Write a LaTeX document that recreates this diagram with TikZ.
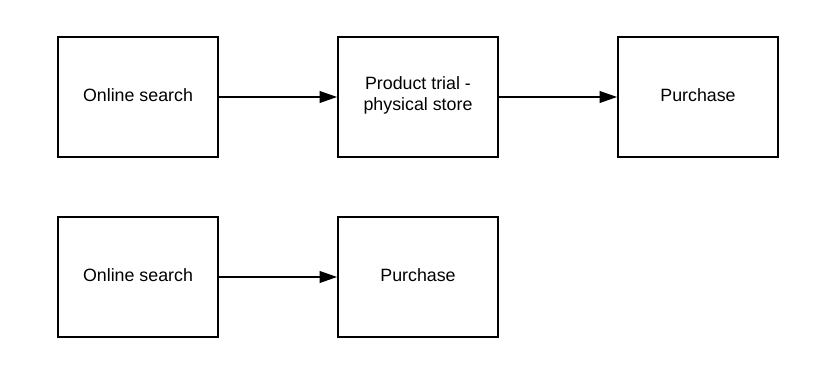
\documentclass[tikz,border=0pt]{standalone}
\usepackage{fontspec}
\setmainfont{Liberation Sans}
\usetikzlibrary{arrows.meta}

\begin{document}
\begin{tikzpicture}[x=0.03cm,y=-0.03cm,>={Triangle[length=15pt,width=10pt]},
  box/.style={draw,line width=1.5pt,minimum width=4.8cm,minimum height=3.6cm,
    inner sep=0pt},
  lbl/.style={align=center,yshift=1.5pt,font=\fontsize{15.2}{18.5}\selectfont}]
  \useasboundingbox (0,0) rectangle (836,374);
  \node[box] (search1) at (138,97) {};
  \node[box] (trial) at (418,97) {};
  \node[box] (buy1) at (698,97) {};
  \node[box] (search2) at (138,277) {};
  \node[box] (buy2) at (418,277) {};
  \node[lbl] (search1-txt) at (search1) {Online search};
  \node[lbl] (trial-txt) at (trial) {Product trial -\\physical store};
  \node[lbl] (buy1-txt) at (buy1) {Purchase};
  \node[lbl] (search2-txt) at (search2) {Online search};
  \node[lbl] (buy2-txt) at (buy2) {Purchase};
  \draw[->,line width=1.5pt] (search1) -- (trial);
  \draw[->,line width=1.5pt] (trial) -- (buy1);
  \draw[->,line width=1.5pt] (search2) -- (buy2);
\end{tikzpicture}
\end{document}
